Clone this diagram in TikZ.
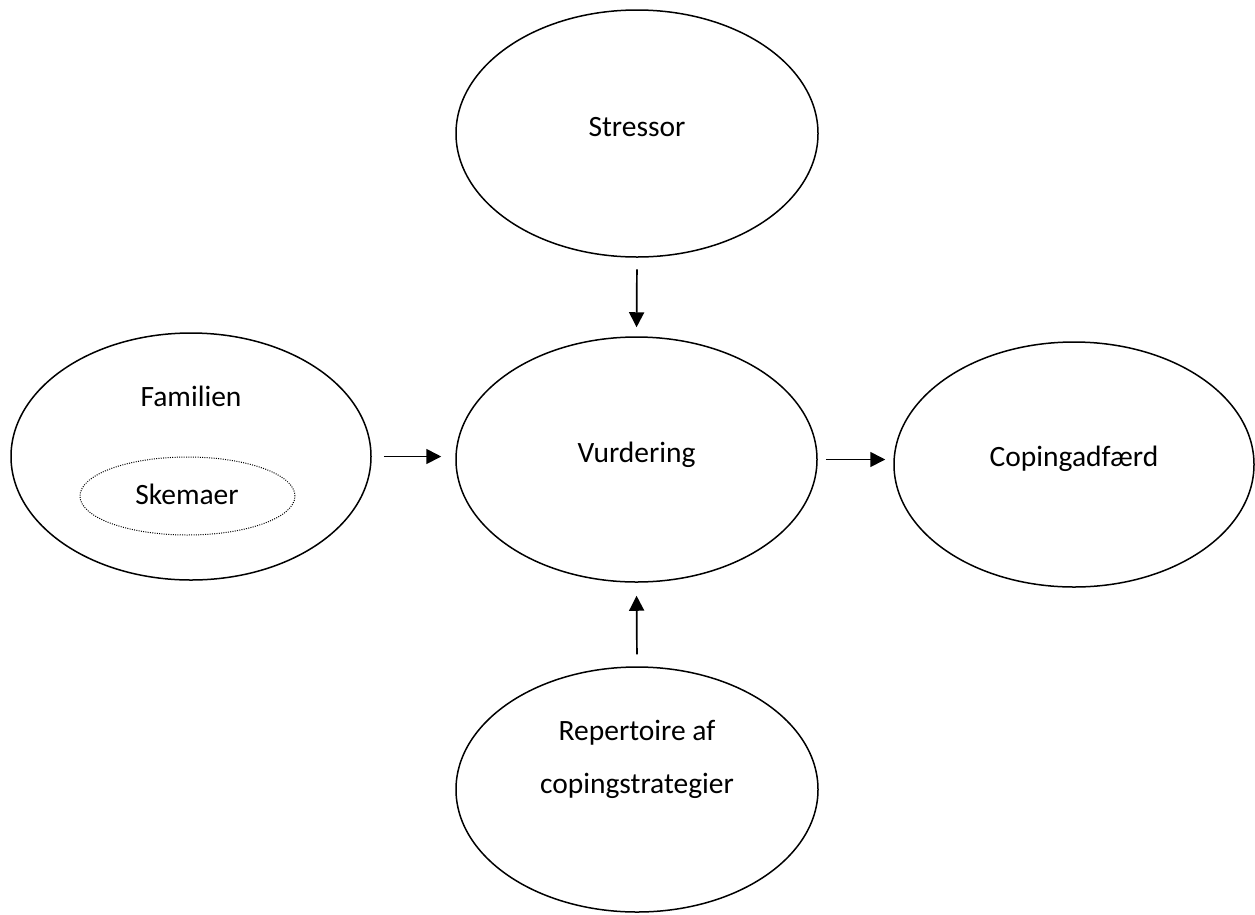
\documentclass[tikz,border=0pt]{standalone}
\usepackage{fontspec}
\setmainfont{Carlito}
\usetikzlibrary{arrows.meta,shapes.geometric}
\begin{document}
\begin{tikzpicture}[x=1pt,y=-1pt,
  oval/.style={draw, ellipse, line width=1.5pt, inner sep=0pt},
  inner/.style={draw, ellipse, line width=1pt, dash pattern=on 1pt off 1.3pt, inner sep=0pt},
  lbl/.style={anchor=base, font=\fontsize{29.5}{35}\selectfont, inner sep=0pt},
  conn/.style={line width=1.7pt, -{Triangle[length=15pt,width=15pt]}}
]
\useasboundingbox (0,0) rectangle (1255,914);
\node[oval, minimum width=362pt, minimum height=247pt] (stressor) at (637,133.5) {};
\node[oval, minimum width=361pt, minimum height=245pt] (vurd) at (636.5,459.5) {};
\node[oval, minimum width=360pt, minimum height=247pt] (fam) at (191,456.5) {};
\node[inner, minimum width=215pt, minimum height=78pt] (skema) at (187.5,496) {};
\node[oval, minimum width=360pt, minimum height=245pt] (cop) at (1074,464.5) {};
\node[oval, minimum width=362pt, minimum height=245pt] (rep) at (637,789.5) {};

\node[lbl] (tstressor) at (637,136) {Stressor};
\node[lbl] (tvurd) at (636.5,462) {Vurdering};
\node[lbl] (tfam) at (191,406.5) {Familien};
\node[lbl] (tskema) at (187,504) {Skemaer};
\node[lbl] (tcop) at (1074,466.5) {Copingadfærd};
\node[lbl] (trep1) at (637,740) {Repertoire af};
\node[lbl] (trep2) at (637,793) {copingstrategier};

\draw[conn, shorten <=11.5pt, shorten >=9pt] (stressor.south) -- (vurd.north);
\draw[conn, shorten <=12pt, shorten >=13pt] (rep.north) -- (vurd.south);
\draw[conn, shorten <=12pt, shorten >=14pt] (fam.east) -- (fam.east -| vurd.west);
\draw[conn, shorten <=8pt, shorten >=8pt] (vurd.east) -- (vurd.east -| cop.west);
\end{tikzpicture}
\end{document}
